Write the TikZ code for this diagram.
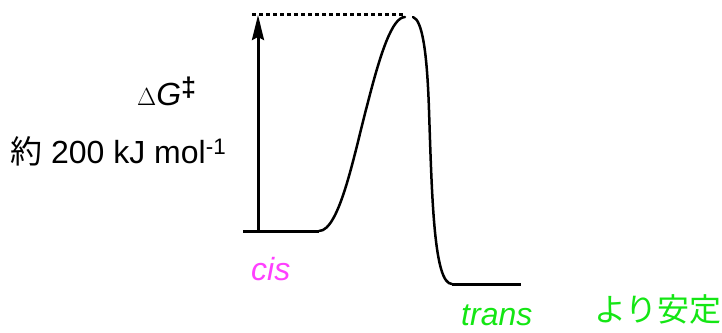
\documentclass[tikz,border=0pt]{standalone}
\usepackage{fontspec}
\setmainfont{Liberation Sans}
\newfontfamily\jpfont{Noto Sans CJK JP}
\usepackage{xcolor}
\usetikzlibrary{arrows.meta, positioning}
\definecolor{cismag}{RGB}{255,64,255}
\definecolor{transgreen}{RGB}{20,230,20}
\tikzstyle{label}  = [inner sep=0pt, font=\fontsize{32bp}{38bp}\selectfont]
\tikzstyle{level}  = [line width=3bp]
\tikzstyle{path}   = [line width=2.5bp, line cap=round]
\tikzstyle{arrow}  = [line width=3bp, -{Stealth[length=25bp, width=12bp, inset=3bp]}]

\begin{document}
\begin{tikzpicture}[x=1bp, y=-1bp]
    \useasboundingbox (0,0) rectangle (722,332);

    % energy levels
    \coordinate (cisL)   at (243,231);
    \coordinate (cisR)   at (319,231);
    \coordinate (transL) at (452,284);
    \coordinate (transR) at (521,284);
    \coordinate (base)   at (258,231);
    \coordinate (top)    at (258,15);
    \coordinate (dotL)   at (252,14);
    \coordinate (dotR)   at (405,14);

    \draw [level] (cisL) -- (cisR);
    \draw [path] (cisR) .. controls (340,231) and (355,150) .. (368,102)
                        .. controls (380,55) and (392,17) .. (405,17);
    \draw [path] (413,17) .. controls (422,20) and (427,50) .. (429,110)
                          .. controls (432,200) and (434,284) .. (transL);
    \draw [level] (transL) -- (transR);

    \draw [arrow] (base) -- (top);
    \draw [line width=3bp, dash pattern=on 3.5bp off 3.5bp] (dotL) -- (dotR);

    \node (dg)     [label, anchor=base west] at (137,105)
        {$\Delta$\textit{G}{\fontsize{27bp}{30bp}\selectfont\bfseries\raisebox{9bp}{‡}}};
    \node (energy) [label, anchor=base west] at (10,163) {{\jpfont 約} 200 kJ mol\textsuperscript{-1}};
    \node (cis)    [label, anchor=base west, text=cismag] at (251,280) {\textit{cis}};
    \node (trans)  [label, anchor=base west, text=transgreen] at (461,325) {\textit{trans}};
    \node (stable) [label, anchor=base west, text=transgreen] at (594,321) {\jpfont より安定};
\end{tikzpicture}
\end{document}
